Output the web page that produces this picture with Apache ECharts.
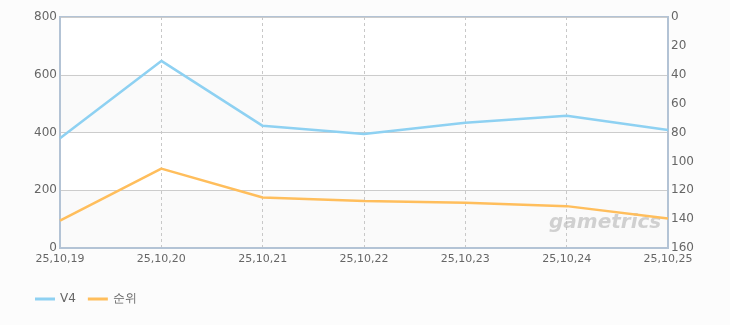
<!DOCTYPE html>
<html><head><meta charset="utf-8">
<script src="https://cdn.jsdelivr.net/npm/echarts@6/dist/echarts.min.js"></script>
<style>html,body{margin:0;padding:0;background:#fcfcfc;}#c{width:730px;height:325px;}</style>
</head><body><div id="c"></div>
<script>
const categories = ['25,10,19','25,10,20','25,10,21','25,10,22','25,10,23','25,10,24','25,10,25'];
const v4Values = [380, 648, 423, 395, 434, 458, 409];
const rankValues = [141, 105, 125, 127.5, 128.7, 131, 139.5];
const leftTicks = [0, 200, 400, 600, 800];
const rightTicks = [0, 20, 40, 60, 80, 100, 120, 140, 160];

const chart = echarts.init(document.getElementById('c'));
const font = 'DejaVu Sans, sans-serif';
chart.setOption({
  backgroundColor: '#fcfcfc',
  animation: false,
  grid: {left: 60, right: 62, top: 17, bottom: 77, show: true, borderColor: '#b3c3d5', borderWidth: 2, backgroundColor: 'transparent'},
  legend: {
    left: 30, bottom: 15, itemWidth: 20, itemHeight: 3, itemGap: 12,
    icon: 'rect',
    textStyle: {color: '#666', fontSize: 12, fontFamily: font},
    data: ['V4', '순위']
  },
  xAxis: {
    type: 'category', data: categories, boundaryGap: false,
    axisLine: {show: true, lineStyle: {color: '#b3c3d5', width: 2}},
    axisTick: {show: false},
    axisLabel: {color: '#666', fontSize: 11, fontFamily: font, margin: 6, showMaxLabel: true, showMinLabel: true, interval: 0},
    splitLine: {show: true, lineStyle: {color: '#c8c8c8', type: [3, 3], width: 1}}
  },
  yAxis: [{
    type: 'value', min: 0, max: 800, interval: 200,
    axisLine: {show: true, lineStyle: {color: '#b3c3d5', width: 2}},
    axisTick: {show: false},
    axisLabel: {color: '#666', fontSize: 12, fontFamily: font, margin: 3},
    splitLine: {show: true, lineStyle: {color: '#cccccc', width: 1}},
    splitArea: {show: true, areaStyle: {color: ['#fafafa', '#ffffff']}}
  }, {
    type: 'value', min: 0, max: 160, interval: 20, inverse: true,
    axisLine: {show: true, lineStyle: {color: '#b3c3d5', width: 2}},
    axisTick: {show: false},
    axisLabel: {color: '#666', fontSize: 12, fontFamily: font, margin: 3},
    splitLine: {show: false}
  }],
  graphic: [{
    type: 'text', left: 549, top: 213, z: 1,
    style: {text: 'gametrics', fill: 'rgba(180,180,180,0.6)', font: 'italic bold 20px "DejaVu Sans", sans-serif'}
  }],
  series: [{
    name: 'V4', type: 'line', data: v4Values, yAxisIndex: 0,
    symbol: 'none', color: '#8ed1f2', lineStyle: {width: 2.5, color: '#8ed1f2'}, z: 5
  }, {
    name: '순위', type: 'line', data: rankValues, yAxisIndex: 1,
    symbol: 'none', color: '#ffbe5c', lineStyle: {width: 2.5, color: '#ffbe5c'}, z: 5
  }]
});
</script></body></html>
